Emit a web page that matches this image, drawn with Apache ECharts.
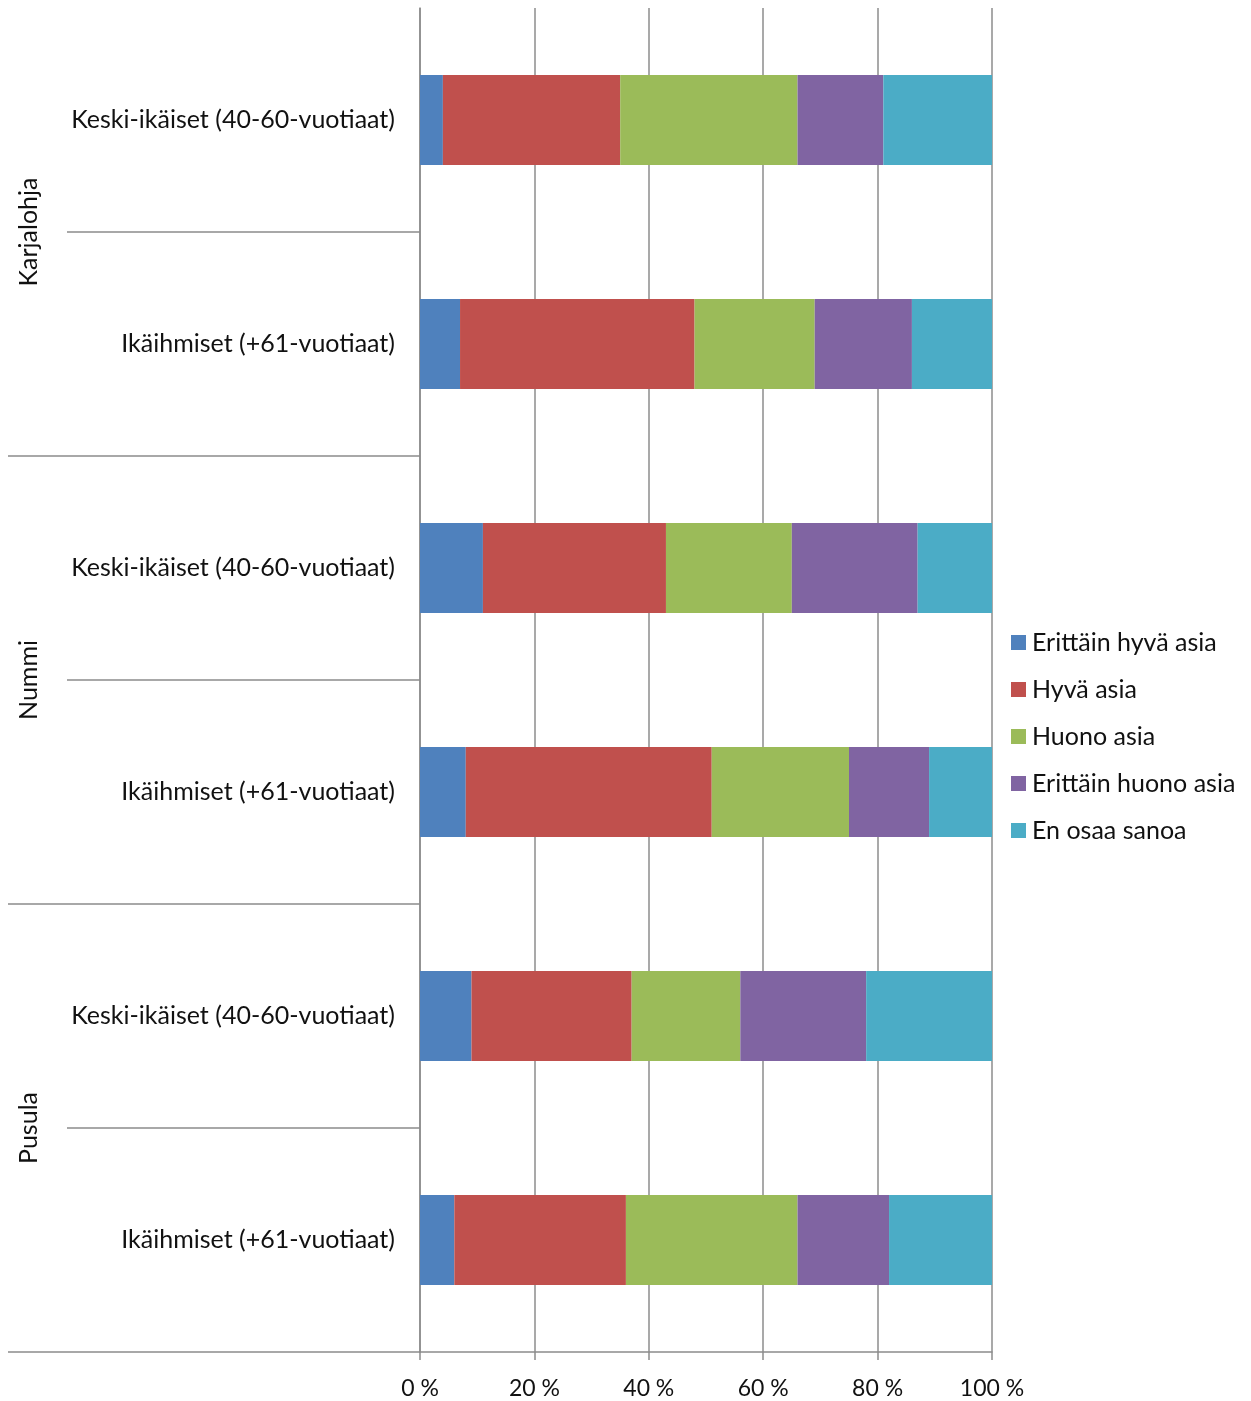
<!DOCTYPE html>
<html>
<head>
<meta charset="utf-8">
<script src="https://cdn.jsdelivr.net/npm/echarts@6/dist/echarts.min.js"></script>
<style>
html,body{margin:0;padding:0;background:#fff;}
#main{width:1251px;height:1401px;}
</style>
</head>
<body>
<div id="main"></div>
<script>
// ---- data ----
const groups = ['Karjalohja', 'Nummi', 'Pusula'];
const subCategories = [
  'Keski-ikäiset (40-60-vuotiaat)', 'Ikäihmiset (+61-vuotiaat)',
  'Keski-ikäiset (40-60-vuotiaat)', 'Ikäihmiset (+61-vuotiaat)',
  'Keski-ikäiset (40-60-vuotiaat)', 'Ikäihmiset (+61-vuotiaat)'
];
const seriesNames = ['Erittäin hyvä asia', 'Hyvä asia', 'Huono asia', 'Erittäin huono asia', 'En osaa sanoa'];
const erittainHyva  = [4, 7, 11, 8, 9, 6];
const hyva          = [31, 41, 32, 43, 28, 30];
const huono         = [31, 21, 22, 24, 19, 30];
const erittainHuono = [15, 17, 22, 14, 22, 16];
const enOsaa        = [19, 14, 13, 11, 22, 18];
const xTickLabels = ['0 %', '20 %', '40 %', '60 %', '80 %', '100 %'];

const seriesData = [erittainHyva, hyva, huono, erittainHuono, enOsaa];
const colors = ['#4F81BD', '#C0504D', '#9BBB59', '#8064A2', '#4BACC6'];
const gridColor = '#8c8c8c';
const FONT = 'Lato';

// slot axis: boundaries between rows (7 positions, 0..6)
const slots = [];
for (let i = 0; i <= subCategories.length; i++) slots.push('s' + i);
const groupLabelOf = {};
groups.forEach((g, i) => { groupLabelOf['s' + (2 * i + 1)] = g; });

const chart = echarts.init(document.getElementById('main'));
chart.setOption({
  animation: false,
  color: colors,
  textStyle: { fontFamily: FONT },
  grid: { left: 420, right: 259, top: 8, bottom: 49, containLabel: false },
  legend: {
    orient: 'vertical',
    left: 1011,
    top: 630,
    padding: 0,
    itemWidth: 15,
    itemHeight: 15,
    itemGap: 22,
    icon: 'rect',
    data: seriesNames,
    textStyle: { fontFamily: FONT, fontSize: 25, color: '#111', padding: [0, 0, 0, 1] }
  },
  xAxis: {
    type: 'value',
    min: 0,
    max: 100,
    interval: 20,
    axisLine: { show: true, lineStyle: { color: gridColor, width: 1.5 } },
    axisTick: { show: true, length: 8, lineStyle: { color: gridColor, width: 1.5 } },
    splitLine: { show: true, lineStyle: { color: gridColor, width: 1.5 } },
    axisLabel: {
      margin: 25,
      fontFamily: FONT, fontSize: 23, color: '#111',
      formatter: function (v) { return xTickLabels[Math.round(v / 20)]; }
    }
  },
  yAxis: [
    {
      type: 'category',
      inverse: true,
      data: subCategories,
      axisLine: { show: true, lineStyle: { color: gridColor, width: 1.5 } },
      axisTick: { show: false },
      axisLabel: { margin: 25, fontFamily: FONT, fontSize: 25, color: '#111', interval: 0 }
    },
    {
      // inner boundaries within each group
      type: 'category',
      inverse: true,
      boundaryGap: false,
      data: slots,
      position: 'left',
      axisLine: { show: false },
      axisTick: {
        show: true, length: 353,
        interval: function (idx) { return idx % 2 === 1; },
        lineStyle: { color: gridColor, width: 1.5 }
      },
      axisLabel: { show: false }
    },
    {
      // boundaries between groups + group names
      type: 'category',
      inverse: true,
      boundaryGap: false,
      data: slots,
      position: 'left',
      axisLine: { show: false },
      axisTick: {
        show: true, length: 412,
        interval: function (idx) { return idx > 0 && idx % 2 === 0; },
        lineStyle: { color: gridColor, width: 1.5 }
      },
      axisLabel: {
        show: true,
        interval: 0,
        rotate: 90,
        margin: 379,
        fontFamily: FONT, fontSize: 25, color: '#111',
        formatter: function (v) { return groupLabelOf[v] || ''; }
      }
    }
  ],
  series: seriesNames.map((name, i) => ({
    name: name,
    type: 'bar',
    stack: 'total',
    yAxisIndex: 0,
    barWidth: 90,
    data: seriesData[i],
    itemStyle: { color: colors[i] }
  }))
});
</script>
</body>
</html>
